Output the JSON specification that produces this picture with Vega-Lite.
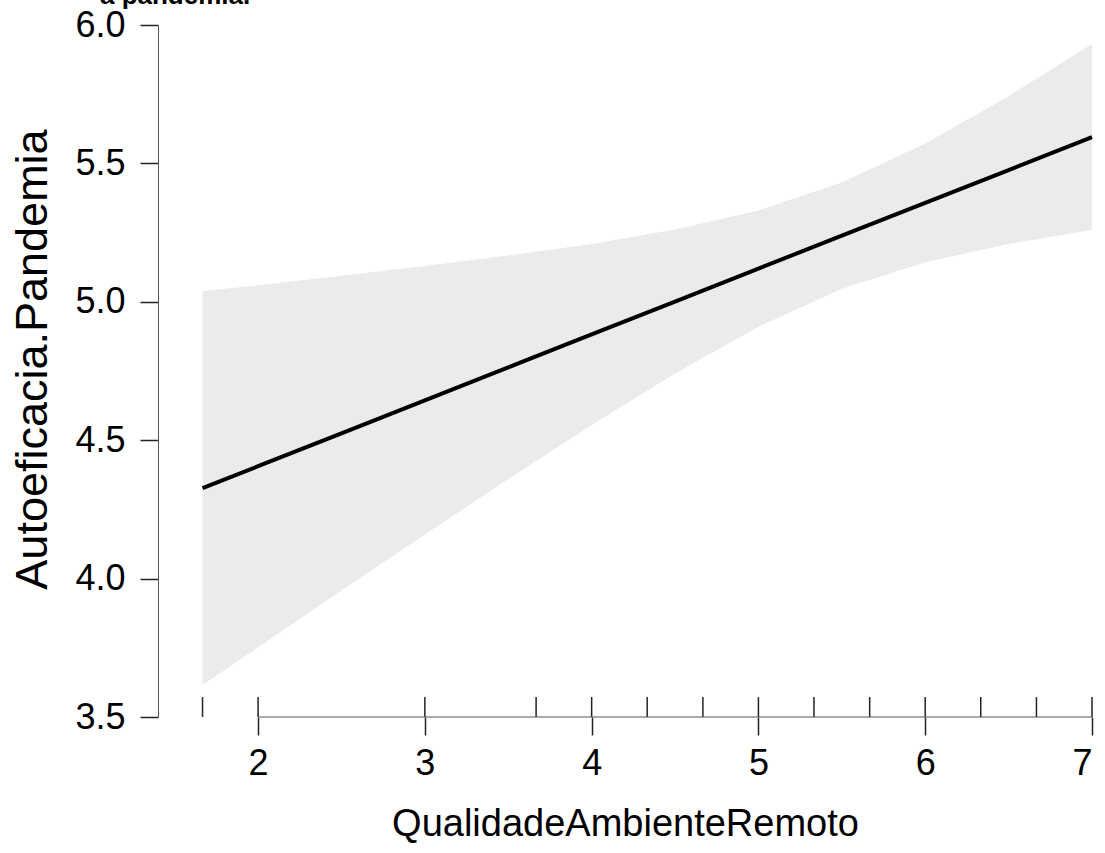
{
  "$schema": "https://vega.github.io/schema/vega-lite/v6.json",
  "autosize": {"type": "none"},
  "padding": {"left": 158, "top": 25, "right": 13, "bottom": 136},
  "width": 934,
  "height": 692,
  "background": "white",
  "config": {
    "view": {"stroke": null},
    "axis": {
      "labelFont": "Liberation Sans",
      "titleFont": "Liberation Sans",
      "labelColor": "black",
      "titleColor": "black",
      "labelFontSize": 36,
      "titleFontSize": 38,
      "titleFontWeight": "normal",
      "grid": false,
      "tickColor": "#222",
      "tickWidth": 1.5,
      "tickSize": 18,
      "domainColor": "#555",
      "domainWidth": 1
    }
  },
  "datasets": {
    "effect": [
      {"QualidadeAmbienteRemoto": 1.667, "fit": 4.327, "lower": 3.616, "upper": 5.039},
      {"QualidadeAmbienteRemoto": 2.0, "fit": 4.406, "lower": 3.752, "upper": 5.060},
      {"QualidadeAmbienteRemoto": 2.5, "fit": 4.525, "lower": 3.957, "upper": 5.094},
      {"QualidadeAmbienteRemoto": 3.0, "fit": 4.644, "lower": 4.159, "upper": 5.129},
      {"QualidadeAmbienteRemoto": 3.5, "fit": 4.763, "lower": 4.360, "upper": 5.167},
      {"QualidadeAmbienteRemoto": 4.0, "fit": 4.882, "lower": 4.555, "upper": 5.209},
      {"QualidadeAmbienteRemoto": 4.5, "fit": 5.001, "lower": 4.741, "upper": 5.261},
      {"QualidadeAmbienteRemoto": 5.0, "fit": 5.120, "lower": 4.910, "upper": 5.330},
      {"QualidadeAmbienteRemoto": 5.5, "fit": 5.239, "lower": 5.047, "upper": 5.431},
      {"QualidadeAmbienteRemoto": 6.0, "fit": 5.357, "lower": 5.143, "upper": 5.572},
      {"QualidadeAmbienteRemoto": 6.5, "fit": 5.476, "lower": 5.209, "upper": 5.743},
      {"QualidadeAmbienteRemoto": 7.0, "fit": 5.595, "lower": 5.259, "upper": 5.931}
    ],
    "rug": [
      {"QualidadeAmbienteRemoto": 1.667},
      {"QualidadeAmbienteRemoto": 2.0},
      {"QualidadeAmbienteRemoto": 3.0},
      {"QualidadeAmbienteRemoto": 3.667},
      {"QualidadeAmbienteRemoto": 4.0},
      {"QualidadeAmbienteRemoto": 4.333},
      {"QualidadeAmbienteRemoto": 4.667},
      {"QualidadeAmbienteRemoto": 5.0},
      {"QualidadeAmbienteRemoto": 5.333},
      {"QualidadeAmbienteRemoto": 5.667},
      {"QualidadeAmbienteRemoto": 6.0},
      {"QualidadeAmbienteRemoto": 6.333},
      {"QualidadeAmbienteRemoto": 6.667},
      {"QualidadeAmbienteRemoto": 7.0}
    ]
  },
  "layer": [
    {
      "data": {"name": "effect"},
      "mark": {"type": "area", "color": "#ebebeb", "opacity": 1},
      "encoding": {
        "x": {
          "field": "QualidadeAmbienteRemoto",
          "type": "quantitative",
          "scale": {"domain": [1.4, 7.0], "nice": false, "zero": false},
          "axis": {
            "title": "QualidadeAmbienteRemoto",
            "values": [2, 3, 4, 5, 6, 7],
            "format": "d",
            "domain": false,
            "labelPadding": 11,
            "titleBaseline": "alphabetic",
            "titleY": 118
          }
        },
        "y": {
          "field": "lower",
          "type": "quantitative",
          "scale": {"domain": [3.5, 6.0], "nice": false, "zero": false},
          "axis": {
            "title": "Autoeficacia.Pandemia",
            "values": [3.5, 4.0, 4.5, 5.0, 5.5, 6.0],
            "format": ".1f",
            "labelPadding": 15,
            "titleFontSize": 45,
            "titleBaseline": "alphabetic",
            "titleAngle": -90,
            "titleX": -112,
            "titleY": 334
          }
        },
        "y2": {"field": "upper"}
      }
    },
    {
      "data": {"name": "effect"},
      "mark": {"type": "line", "color": "black", "strokeWidth": 4},
      "encoding": {
        "x": {"field": "QualidadeAmbienteRemoto", "type": "quantitative"},
        "y": {"field": "fit", "type": "quantitative"}
      }
    },
    {
      "data": {"name": "rug"},
      "mark": {"type": "rule", "color": "#222", "strokeWidth": 1.5},
      "encoding": {
        "x": {"field": "QualidadeAmbienteRemoto", "type": "quantitative"},
        "y": {"datum": 3.5},
        "y2": {"datum": 3.572}
      }
    },
    {
      "data": {"values": [{"from": 2, "to": 7, "level": 3.5}]},
      "mark": {"type": "rule", "color": "#555", "strokeWidth": 1},
      "encoding": {
        "x": {"field": "from", "type": "quantitative"},
        "x2": {"field": "to"},
        "y": {"field": "level", "type": "quantitative"}
      }
    },
    {
      "data": {"values": [{"heading": "a pandemia."}]},
      "mark": {
        "type": "text",
        "align": "left",
        "baseline": "alphabetic",
        "font": "Liberation Sans",
        "fontSize": 26,
        "fontWeight": "bold",
        "color": "black"
      },
      "encoding": {
        "text": {"field": "heading"},
        "x": {"datum": 1.052},
        "y": {"datum": 6.076}
      }
    }
  ]
}
